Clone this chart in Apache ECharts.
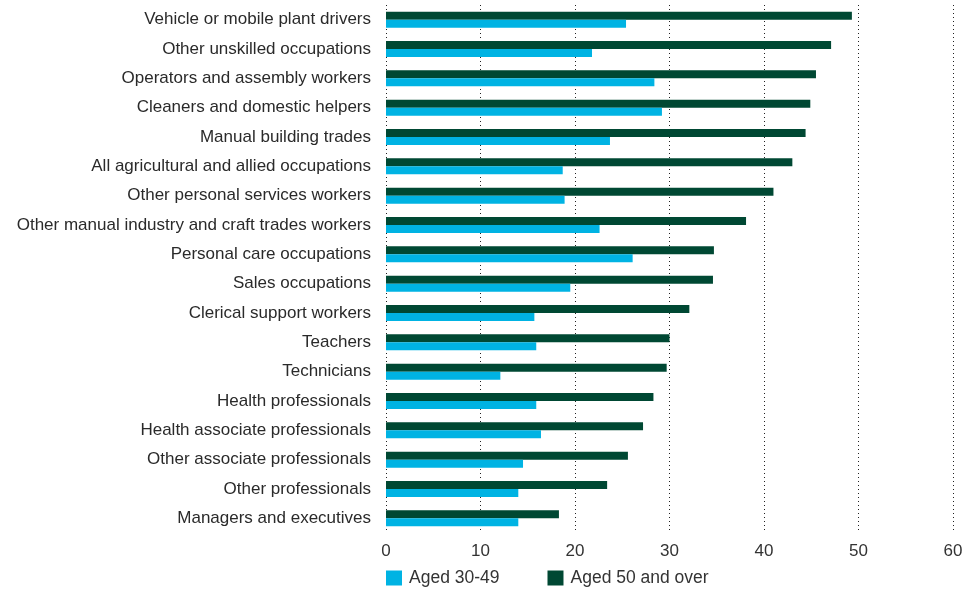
<!DOCTYPE html>
<html><head><meta charset="utf-8">
<script src="https://cdn.jsdelivr.net/npm/echarts@6/dist/echarts.min.js"></script>
<style>html,body{margin:0;padding:0;background:#fff}#c{width:969px;height:591px}</style>
</head><body><div id="c"></div>
<script>
const categories = ["Vehicle or mobile plant drivers","Other unskilled occupations","Operators and assembly workers","Cleaners and domestic helpers","Manual building trades","All agricultural and allied occupations","Other personal services workers","Other manual industry and craft trades workers","Personal care occupations","Sales occupations","Clerical support workers","Teachers","Technicians","Health professionals","Health associate professionals","Other associate professionals","Other professionals","Managers and executives"];
const aged3049 = [25.4,21.8,28.4,29.2,23.7,18.7,18.9,22.6,26.1,19.5,15.7,15.9,12.1,15.9,16.4,14.5,14.0,14.0];
const aged50 = [49.3,47.1,45.5,44.9,44.4,43.0,41.0,38.1,34.7,34.6,32.1,30.0,29.7,28.3,27.2,25.6,23.4,18.3];
const xTicks = [0,10,20,30,40,50,60];
const font = "'Liberation Sans',sans-serif";
const chart = echarts.init(document.getElementById('c'));
chart.setOption({
  animation:false,
  grid:{left:386,right:16,top:5,bottom:58,containLabel:false},
  legend:{left:386,bottom:4,padding:0,itemWidth:16,itemHeight:15,itemGap:48,icon:'rect',
    textStyle:{fontFamily:font,fontSize:17.5,color:'#333',padding:[0,0,0,2]},data:['Aged 30-49','Aged 50 and over']},
  xAxis:{type:'value',min:xTicks[0],max:xTicks[xTicks.length-1],interval:10,
    axisLine:{show:false},axisTick:{show:false},
    axisLabel:{fontFamily:font,fontSize:17,color:'#333',margin:10},
    splitLine:{show:true,lineStyle:{color:'#222',type:[1,3],width:1}}},
  yAxis:{type:'category',data:categories,inverse:true,
    axisLine:{show:false},axisTick:{show:false},
    axisLabel:{fontFamily:font,fontSize:17,color:'#2a2a2a',margin:15,padding:[3,0,0,0]}},
  series:[
    {name:'Aged 50 and over',type:'bar',data:aged50,barWidth:8,barGap:'0%',itemStyle:{color:'#004833'}},
    {name:'Aged 30-49',type:'bar',data:aged3049,barWidth:8,barGap:'0%',itemStyle:{color:'#00b3e3'}}
  ]
});
</script></body></html>
